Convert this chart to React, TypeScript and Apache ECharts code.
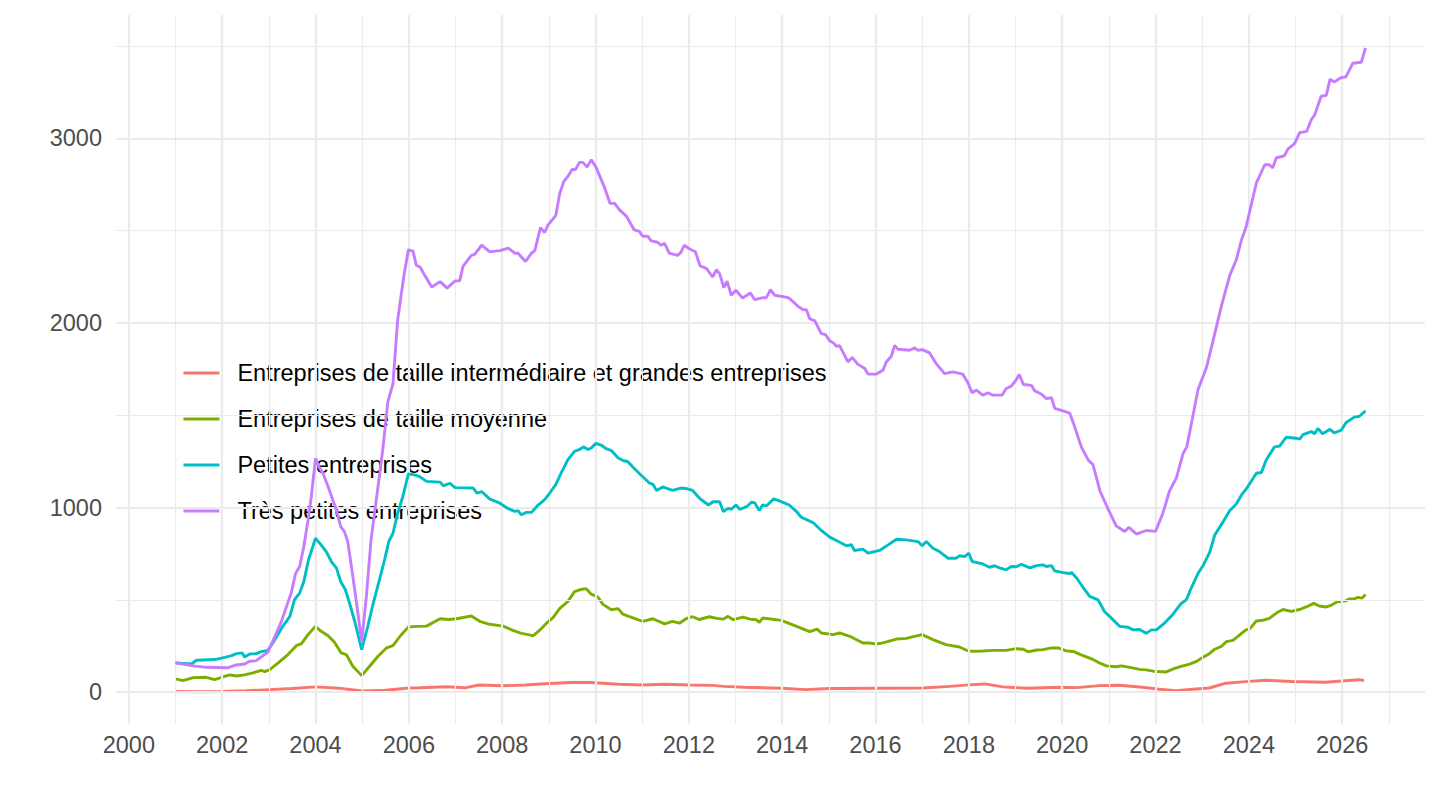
import React, { useEffect, useRef } from "react";
import * as echarts from "echarts";

const seriesNames = [
  "Entreprises de taille intermédiaire et grandes entreprises",
  "Entreprises de taille moyenne",
  "Petites entreprises",
  "Très petites entreprises",
];
const seriesColors = ["#F8766D", "#7CAE00", "#00BFC4", "#C77CFF"];

const xTickLabels = [2000, 2002, 2004, 2006, 2008, 2010, 2012, 2014, 2016, 2018, 2020, 2022, 2024, 2026];
const xMinorTicks = [2001, 2003, 2005, 2007, 2009, 2011, 2013, 2015, 2017, 2019, 2021, 2023, 2025, 2027];
const yTickLabels = [0, 1000, 2000, 3000];
const yMinorTicks = [500, 1500, 2500, 3500];

// [year, value]
const etiGe: [number, number][] = [
  [2001.0, 4], [2001.5, 3], [2002.0, 4], [2002.5, 8], [2003.0, 14], [2003.5, 20], [2004.0, 29],
  [2004.5, 22], [2005.0, 7], [2005.5, 11], [2006.0, 23], [2006.24, 24], [2006.8, 30], [2007.2, 24],
  [2007.5, 39], [2008.0, 35], [2008.5, 39], [2009.0, 47], [2009.5, 53], [2009.9, 53], [2010.5, 43],
  [2011.0, 39], [2011.5, 43], [2012.0, 39], [2012.5, 37], [2012.75, 32], [2013.2, 27], [2014.0, 22],
  [2014.5, 14], [2015.0, 20], [2016.0, 22], [2017.0, 23], [2017.6, 32], [2018.0, 40], [2018.34, 45],
  [2018.73, 29], [2019.24, 22], [2019.95, 27], [2020.31, 25], [2020.8, 36], [2021.23, 38],
  [2021.72, 27], [2022.08, 16], [2022.44, 9], [2022.8, 16], [2023.15, 23], [2023.51, 49],
  [2023.86, 56], [2024.36, 65], [2024.93, 58], [2025.64, 54], [2026.0, 61], [2026.36, 68], [2026.47, 63],
];

const etm: [number, number][] = [
  [2001.0, 72], [2001.16, 63], [2001.38, 79], [2001.66, 81], [2001.84, 68], [2002.02, 83], [2002.16, 94],
  [2002.31, 88], [2002.48, 94], [2002.66, 105], [2002.84, 119], [2002.91, 112], [2003.02, 123],
  [2003.2, 159], [2003.41, 204], [2003.59, 252], [2003.7, 263], [2003.84, 312], [2004.0, 357],
  [2004.12, 330], [2004.27, 306], [2004.41, 270], [2004.55, 213], [2004.66, 204], [2004.8, 141],
  [2004.99, 90], [2005.16, 141], [2005.34, 195], [2005.52, 240], [2005.66, 252], [2005.82, 306],
  [2005.99, 353], [2006.16, 357], [2006.38, 358], [2006.67, 398], [2006.85, 394], [2007.02, 398],
  [2007.34, 413], [2007.52, 384], [2007.73, 368], [2008.02, 358], [2008.23, 335], [2008.41, 319],
  [2008.59, 311], [2008.66, 305], [2008.8, 335], [2008.95, 374], [2009.09, 404], [2009.23, 453],
  [2009.41, 492], [2009.55, 545], [2009.66, 555], [2009.8, 561], [2009.91, 531], [2010.05, 516],
  [2010.16, 476], [2010.34, 447], [2010.48, 453], [2010.59, 423], [2010.73, 409], [2011.01, 384],
  [2011.23, 398], [2011.48, 370], [2011.65, 384], [2011.8, 374], [2011.94, 398], [2012.08, 409],
  [2012.22, 394], [2012.44, 409], [2012.6, 400], [2012.74, 396], [2012.84, 411], [2012.95, 393],
  [2013.16, 407], [2013.31, 396], [2013.44, 393], [2013.51, 378], [2013.58, 402], [2013.98, 389],
  [2014.31, 357], [2014.59, 328], [2014.75, 342], [2014.84, 321], [2015.09, 312], [2015.23, 321],
  [2015.45, 303], [2015.73, 267], [2015.87, 267], [2016.02, 261], [2016.16, 267], [2016.45, 288],
  [2016.66, 292], [2016.84, 303], [2017.0, 312], [2017.23, 285], [2017.51, 258], [2017.8, 245],
  [2018.0, 222], [2018.3, 223], [2018.51, 227], [2018.8, 227], [2019.01, 236], [2019.17, 233],
  [2019.27, 219], [2019.45, 229], [2019.59, 231], [2019.77, 240], [2019.91, 240], [2020.09, 224],
  [2020.24, 221], [2020.38, 205], [2020.63, 181], [2020.77, 162], [2020.95, 143], [2021.16, 138],
  [2021.27, 143], [2021.48, 133], [2021.66, 124], [2021.8, 121], [2021.95, 114], [2022.23, 110],
  [2022.41, 129], [2022.59, 143], [2022.73, 152], [2022.88, 167], [2023.02, 190], [2023.16, 210],
  [2023.27, 233], [2023.41, 248], [2023.52, 274], [2023.66, 281], [2023.8, 310], [2023.94, 338],
  [2024.02, 343], [2024.16, 386], [2024.3, 390], [2024.44, 400], [2024.59, 429], [2024.73, 448],
  [2024.91, 438], [2025.09, 448], [2025.23, 462], [2025.39, 481], [2025.51, 467], [2025.66, 462],
  [2025.76, 471], [2025.9, 490], [2026.08, 495], [2026.15, 505], [2026.26, 505], [2026.33, 514],
  [2026.43, 510], [2026.5, 529],
];

const pe: [number, number][] = [
  [2001.0, 159], [2001.34, 153], [2001.45, 173], [2001.84, 177], [2002.06, 189], [2002.2, 198],
  [2002.31, 209], [2002.43, 213], [2002.48, 191], [2002.59, 207], [2002.73, 209], [2002.84, 220],
  [2002.98, 227], [2003.13, 285], [2003.3, 357], [2003.45, 411], [2003.55, 501], [2003.66, 537],
  [2003.75, 600], [2003.85, 717], [2004.0, 834], [2004.12, 798], [2004.23, 762], [2004.34, 708],
  [2004.45, 672], [2004.54, 600], [2004.64, 555], [2004.73, 483], [2004.85, 375], [2004.99, 231],
  [2005.12, 357], [2005.23, 474], [2005.37, 609], [2005.48, 717], [2005.57, 816], [2005.66, 861],
  [2005.76, 969], [2005.87, 1059], [2005.99, 1182], [2006.12, 1177], [2006.23, 1168], [2006.38, 1142],
  [2006.67, 1138], [2006.74, 1118], [2006.88, 1132], [2006.99, 1108], [2007.38, 1106], [2007.46, 1079],
  [2007.56, 1087], [2007.73, 1047], [2007.95, 1024], [2008.13, 994], [2008.27, 980], [2008.34, 984],
  [2008.41, 961], [2008.52, 974], [2008.63, 974], [2008.77, 1014], [2008.91, 1043], [2009.02, 1079],
  [2009.15, 1126], [2009.27, 1191], [2009.41, 1260], [2009.55, 1305], [2009.66, 1315], [2009.74, 1329],
  [2009.84, 1315], [2009.91, 1323], [2010.01, 1348], [2010.12, 1339], [2010.23, 1319], [2010.34, 1309],
  [2010.48, 1270], [2010.6, 1254], [2010.69, 1250], [2010.8, 1220], [2010.94, 1185], [2011.16, 1132],
  [2011.23, 1126], [2011.31, 1093], [2011.44, 1112], [2011.65, 1093], [2011.83, 1106], [2011.97, 1102],
  [2012.08, 1093], [2012.24, 1048], [2012.42, 1014], [2012.52, 1032], [2012.66, 1032], [2012.74, 978],
  [2012.84, 996], [2012.91, 991], [2013.01, 1014], [2013.09, 991], [2013.24, 1005], [2013.34, 1029],
  [2013.41, 1027], [2013.51, 984], [2013.58, 1014], [2013.66, 1009], [2013.82, 1047], [2013.98, 1032],
  [2014.15, 1014], [2014.31, 978], [2014.41, 948], [2014.66, 919], [2014.84, 876], [2015.02, 840],
  [2015.16, 822], [2015.38, 793], [2015.48, 800], [2015.55, 768], [2015.73, 775], [2015.84, 753],
  [2016.09, 768], [2016.27, 798], [2016.45, 829], [2016.66, 825], [2016.91, 816], [2017.0, 793],
  [2017.09, 816], [2017.23, 780], [2017.37, 762], [2017.55, 726], [2017.73, 726], [2017.8, 739],
  [2017.91, 735], [2018.0, 753], [2018.07, 708], [2018.3, 695], [2018.44, 677], [2018.55, 685],
  [2018.66, 674], [2018.8, 663], [2018.91, 681], [2019.02, 680], [2019.13, 693], [2019.31, 674],
  [2019.45, 686], [2019.59, 690], [2019.66, 681], [2019.77, 686], [2019.84, 657], [2020.02, 648],
  [2020.16, 643], [2020.2, 648], [2020.31, 619], [2020.45, 567], [2020.59, 519], [2020.77, 500],
  [2020.91, 436], [2021.06, 400], [2021.23, 357], [2021.41, 352], [2021.52, 338], [2021.66, 340],
  [2021.8, 319], [2021.91, 338], [2022.02, 338], [2022.2, 376], [2022.38, 424], [2022.55, 481],
  [2022.66, 500], [2022.77, 567], [2022.91, 643], [2023.02, 686], [2023.16, 757], [2023.27, 852],
  [2023.45, 924], [2023.59, 983], [2023.73, 1019], [2023.84, 1067], [2023.98, 1114], [2024.16, 1186],
  [2024.27, 1190], [2024.37, 1257], [2024.55, 1329], [2024.66, 1333], [2024.8, 1381], [2025.01, 1376],
  [2025.09, 1371], [2025.16, 1395], [2025.34, 1412], [2025.41, 1400], [2025.48, 1429], [2025.58, 1400],
  [2025.74, 1424], [2025.83, 1405], [2025.98, 1419], [2026.08, 1460], [2026.26, 1490], [2026.37, 1495],
  [2026.5, 1524],
];

const tpe: [number, number][] = [
  [2001.0, 159], [2001.34, 144], [2001.66, 135], [2002.13, 133], [2002.27, 146], [2002.48, 153],
  [2002.59, 168], [2002.73, 171], [2002.98, 218], [2003.13, 303], [2003.27, 384], [2003.38, 465],
  [2003.48, 537], [2003.57, 641], [2003.66, 681], [2003.75, 789], [2003.84, 933], [2003.91, 1059],
  [2004.0, 1267], [2004.07, 1222], [2004.16, 1186], [2004.27, 1114], [2004.37, 1041], [2004.45, 987],
  [2004.54, 897], [2004.62, 870], [2004.69, 816], [2004.78, 663], [2004.87, 501], [2004.99, 276],
  [2005.09, 519], [2005.19, 825], [2005.34, 1114], [2005.44, 1312], [2005.55, 1573], [2005.66, 1672],
  [2005.76, 2014], [2005.89, 2249], [2005.99, 2396], [2006.09, 2389], [2006.16, 2312], [2006.24, 2303],
  [2006.34, 2258], [2006.49, 2195], [2006.67, 2224], [2006.82, 2189], [2006.99, 2228], [2007.09, 2228],
  [2007.16, 2307], [2007.34, 2366], [2007.41, 2372], [2007.56, 2421], [2007.73, 2386], [2007.95, 2392],
  [2008.13, 2405], [2008.27, 2378], [2008.34, 2378], [2008.5, 2333], [2008.63, 2378], [2008.7, 2392],
  [2008.82, 2516], [2008.91, 2490], [2008.98, 2530], [2009.15, 2583], [2009.23, 2697], [2009.32, 2766],
  [2009.41, 2795], [2009.5, 2831], [2009.57, 2831], [2009.66, 2870], [2009.73, 2870], [2009.82, 2844],
  [2009.91, 2884], [2010.01, 2844], [2010.19, 2736], [2010.31, 2648], [2010.41, 2648], [2010.51, 2614],
  [2010.66, 2579], [2010.83, 2504], [2010.94, 2496], [2011.01, 2470], [2011.12, 2470], [2011.19, 2445],
  [2011.33, 2437], [2011.4, 2421], [2011.48, 2431], [2011.58, 2378], [2011.76, 2366], [2011.83, 2382],
  [2011.9, 2421], [2012.01, 2402], [2012.14, 2386], [2012.24, 2310], [2012.38, 2294], [2012.51, 2249],
  [2012.59, 2288], [2012.66, 2267], [2012.75, 2191], [2012.82, 2227], [2012.91, 2150], [2013.01, 2177],
  [2013.15, 2135], [2013.32, 2162], [2013.41, 2126], [2013.59, 2137], [2013.66, 2137], [2013.75, 2180],
  [2013.84, 2150], [2014.13, 2137], [2014.2, 2123], [2014.34, 2090], [2014.45, 2072], [2014.52, 2072],
  [2014.59, 2023], [2014.7, 2011], [2014.84, 1942], [2014.93, 1937], [2015.02, 1903], [2015.1, 1892],
  [2015.16, 1874], [2015.23, 1877], [2015.41, 1789], [2015.5, 1813], [2015.62, 1777], [2015.77, 1753],
  [2015.84, 1723], [2016.02, 1723], [2016.16, 1744], [2016.23, 1789], [2016.34, 1820], [2016.41, 1879],
  [2016.48, 1858], [2016.73, 1852], [2016.84, 1865], [2016.91, 1852], [2017.0, 1856], [2017.16, 1838],
  [2017.3, 1780], [2017.48, 1726], [2017.66, 1735], [2017.87, 1723], [2017.98, 1676], [2018.07, 1622],
  [2018.16, 1636], [2018.3, 1609], [2018.41, 1622], [2018.51, 1609], [2018.71, 1609], [2018.8, 1645],
  [2018.91, 1658], [2019.01, 1690], [2019.08, 1721], [2019.17, 1667], [2019.34, 1662], [2019.41, 1633],
  [2019.56, 1614], [2019.66, 1590], [2019.77, 1595], [2019.84, 1538], [2020.02, 1524], [2020.16, 1512],
  [2020.27, 1436], [2020.41, 1329], [2020.56, 1257], [2020.66, 1233], [2020.81, 1090], [2020.98, 995],
  [2021.16, 900], [2021.34, 871], [2021.43, 893], [2021.59, 857], [2021.8, 876], [2022.0, 871],
  [2022.16, 971], [2022.3, 1090], [2022.45, 1162], [2022.59, 1293], [2022.67, 1329], [2022.8, 1495],
  [2022.91, 1638], [2023.09, 1757], [2023.23, 1900], [2023.41, 2090], [2023.59, 2257], [2023.73, 2341],
  [2023.84, 2448], [2023.94, 2519], [2024.05, 2638], [2024.16, 2757], [2024.34, 2857], [2024.44, 2857],
  [2024.51, 2840], [2024.59, 2895], [2024.76, 2905], [2024.84, 2943], [2024.98, 2971], [2025.09, 3031],
  [2025.24, 3038], [2025.34, 3102], [2025.41, 3126], [2025.55, 3228], [2025.66, 3233], [2025.74, 3321],
  [2025.83, 3305], [2025.98, 3329], [2026.08, 3333], [2026.23, 3407], [2026.41, 3412], [2026.5, 3490],
];

const seriesData = [etiGe, etm, pe, tpe];

const FONT = "'Liberation Sans', Arial, Helvetica, sans-serif";
const GRID_COLOR = "#EBEBEB";

export default function App() {
  const ref = useRef<HTMLDivElement>(null);

  useEffect(() => {
    if (!ref.current) return;
    const chart = echarts.init(ref.current, null, { renderer: "svg" });

    const gridLine = (axis: "xAxis" | "yAxis", v: number, width: number) => ({
      [axis]: v,
      lineStyle: { color: GRID_COLOR, width, type: "solid" },
    });

    const option: any = {
      animation: false,
      backgroundColor: "#FFFFFF",
      grid: { left: 116, right: 15, top: 15, bottom: 86, containLabel: false },
      xAxis: {
        type: "value",
        min: 1999.725,
        max: 2027.775,
        axisLine: { show: false },
        axisTick: { show: false },
        splitLine: { show: false },
        axisLabel: {
          customValues: xTickLabels,
          formatter: (v: number) => String(Math.round(v)),
          color: "#4D4D4D",
          fontSize: 23.5,
          fontFamily: FONT,
          margin: 9,
        },
      },
      yAxis: {
        type: "value",
        min: -172,
        max: 3668,
        axisLine: { show: false },
        axisTick: { show: false },
        splitLine: { show: false },
        axisLabel: {
          customValues: yTickLabels,
          formatter: (v: number) => String(Math.round(v)),
          color: "#4D4D4D",
          fontSize: 23.5,
          fontFamily: FONT,
          margin: 14,
        },
      },
      legend: {
        orient: "vertical",
        left: 182,
        top: 361,
        padding: 0,
        itemWidth: 36,
        itemHeight: 23,
        itemGap: 22,
        selectedMode: false,
        data: seriesNames,
        itemStyle: { color: "rgba(0,0,0,0)", borderWidth: 0, opacity: 0 },
        lineStyle: { width: 2.9 },
        textStyle: { color: "#000000", fontSize: 23.5, fontFamily: FONT, padding: [0, 0, 0, 13] },
      },
      series: [
        {
          type: "line",
          name: "grid",
          data: [],
          silent: true,
          z: 1,
          markLine: {
            silent: true,
            animation: false,
            symbol: ["none", "none"],
            label: { show: false },
            emphasis: { disabled: true },
            data: [
              ...xMinorTicks.map((v) => gridLine("xAxis", v, 1.1)),
              ...yMinorTicks.map((v) => gridLine("yAxis", v, 1.1)),
              ...xTickLabels.map((v) => gridLine("xAxis", v, 2.2)),
              ...yTickLabels.map((v) => gridLine("yAxis", v, 2.2)),
            ],
          },
        },
        ...seriesNames.map((name, i) => ({
          type: "line",
          name,
          data: seriesData[i],
          showSymbol: false,
          symbol: "none",
          z: 3 + i,
          silent: true,
          lineStyle: { color: seriesColors[i], width: 2.9 },
          itemStyle: { color: seriesColors[i] },
          emphasis: { disabled: true },
        })),
      ],
    };

    chart.setOption(option);
    return () => chart.dispose();
  }, []);

  return (
    <div
      ref={ref}
      style={{ position: "absolute", left: 0, top: 0, width: 1440, height: 810, background: "#fff" }}
    />
  );
}
